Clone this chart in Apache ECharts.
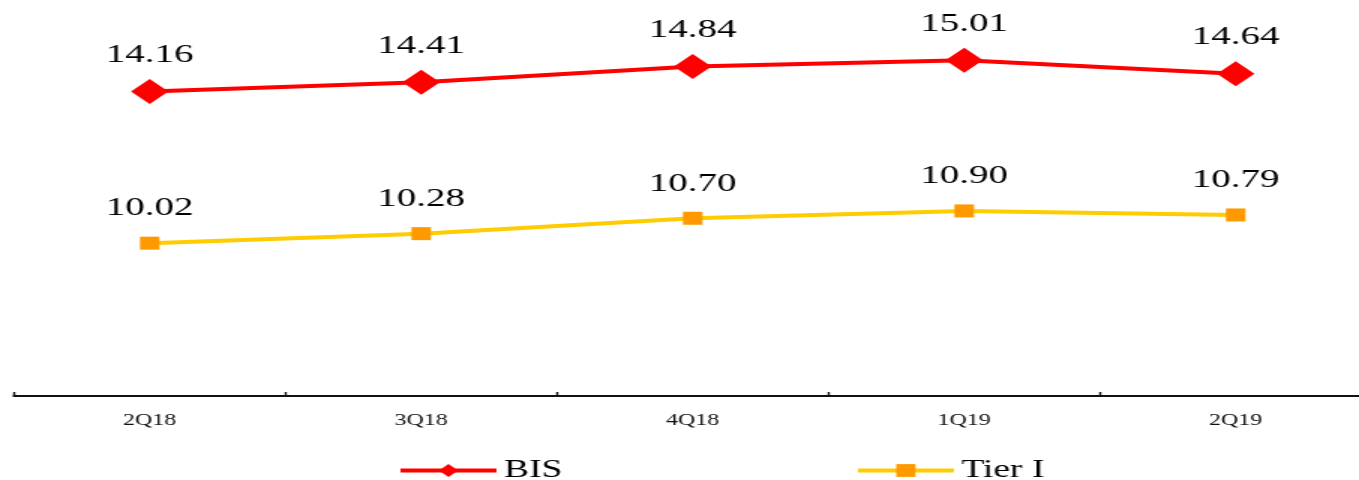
<!DOCTYPE html>
<html>
<head>
<meta charset="utf-8">
<title>BIS / Tier I</title>
<script src="https://cdn.jsdelivr.net/npm/echarts@6/dist/echarts.min.js"></script>
<style>
  html, body { margin: 0; padding: 0; background: #fff; overflow: hidden; width: 1359px; height: 480px; }
  /* The chart is laid out on a narrower canvas and widened horizontally,
     giving the wide serif lettering and flattened markers of the print style.
     The canvas runs slightly past the right edge so the axis line bleeds off. */
  #chart { width: 920px; height: 480px; transform: scaleX(1.5); transform-origin: 0 0; }
</style>
</head>
<body>
<div id="chart"></div>
<script>
const quarters = ['2Q18', '3Q18', '4Q18', '1Q19', '2Q19'];
const bisRatio = [14.16, 14.41, 14.84, 15.01, 14.64];
const tier1Ratio = [10.02, 10.28, 10.70, 10.90, 10.79];

const serif = "'Liberation Serif', 'Times New Roman', serif";
const chart = echarts.init(document.getElementById('chart'), null, { renderer: 'canvas' });

chart.setOption({
  animation: false,
  backgroundColor: '#ffffff',
  textStyle: { fontFamily: serif },
  grid: { left: 9.3, width: 905, top: 24, bottom: 84, containLabel: false },
  legend: {
    top: 453,
    left: 260,
    itemGap: 195,
    itemWidth: 64,
    itemHeight: 16,
    lineStyle: { width: 4 },
    textStyle: { fontFamily: serif, fontSize: 25, color: '#000' },
    data: ['BIS', 'Tier I']
  },
  xAxis: {
    type: 'category',
    data: quarters,
    boundaryGap: true,
    axisLine: { lineStyle: { color: '#111', width: 2 } },
    axisTick: { show: true, inside: true, length: 4, lineStyle: { color: '#111', width: 1.4 } },
    axisLabel: { fontFamily: serif, fontSize: 16, color: '#111', margin: 17 },
    splitLine: { show: false }
  },
  yAxis: {
    type: 'value',
    min: 5.85,
    max: 16,
    show: false,
    splitLine: { show: false }
  },
  series: [
    {
      name: 'BIS',
      type: 'line',
      data: bisRatio,
      symbol: 'diamond',
      symbolSize: [25, 25],
      lineStyle: { color: '#ff0000', width: 4 },
      itemStyle: { color: '#ff0000' },
      label: {
        show: true,
        position: 'top',
        distance: 11,
        fontFamily: serif,
        fontSize: 26,
        color: '#000',
        formatter: p => p.value.toFixed(2)
      }
    },
    {
      name: 'Tier I',
      type: 'line',
      data: tier1Ratio,
      symbol: 'rect',
      symbolSize: [13, 13],
      lineStyle: { color: '#ffcc00', width: 4 },
      itemStyle: { color: '#ff9900' },
      label: {
        show: true,
        position: 'top',
        distance: 15,
        fontFamily: serif,
        fontSize: 26,
        color: '#000',
        formatter: p => p.value.toFixed(2)
      }
    }
  ]
});
</script>
</body>
</html>
